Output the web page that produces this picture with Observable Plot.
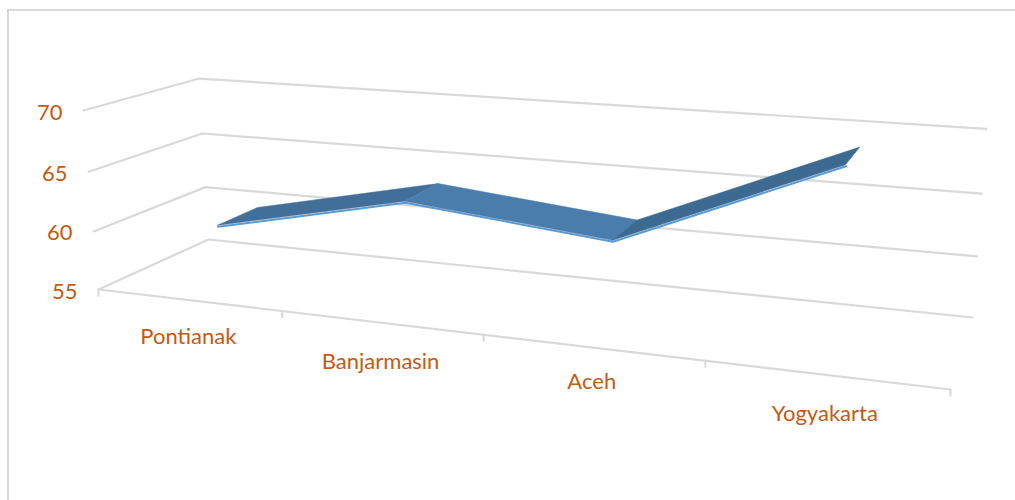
<!DOCTYPE html>
<html>
<head>
<meta charset="utf-8">
<script src="https://cdn.jsdelivr.net/npm/d3@7"></script>
<script src="https://cdn.jsdelivr.net/npm/@observablehq/plot@0.6"></script>
<style>
html,body{margin:0;padding:0;background:#fff;overflow:hidden}
#frame{position:absolute;left:7px;top:9px;width:1008px;height:491px;border-left:2px solid #d9d9d9;border-top:2px solid #d9d9d9;pointer-events:none}
</style>
</head>
<body>
<div id="chart"></div>
<div id="frame"></div>
<script>
const categories = ["Pontianak", "Banjarmasin", "Aceh", "Yogyakarta"];
const values = [60, 63.5, 61.9, 69];
const levels = [55, 60, 65, 70];
const segmentColors = ["#426f99", "#4a7dac", "#3c6a90"];
const gridColor = "#d9d9d9";
const textColor = "#c55a11";
const edgeColor = "#5b9bd5";

// The chart's 3D box: category position u, value v and depth w are each 0 to 1.
const ribbonDepth = [0.30, 0.685];
const vMin = d3.min(levels), vMax = d3.max(levels);
function project(u, value, w) {
  const v = (value - vMin) / (vMax - vMin);
  const den = 1 - 0.175 * u - 0.04 * v + 0.1202 * w;
  return {
    x: (98 + 685.75 * u - 18.32 * v + 135 * w - 8 * u * v) / den,
    y: (289 + 31.9 * u - 183.4 * v - 21.3 * w) / den
  };
}
const n = categories.length;
const center = i => (i + 0.5) / n;

const grid = levels.flatMap(l => [
  {...project(0, l, 0), l}, {...project(0, l, 1), l}, {...project(1, l, 1), l}
]);
const axisLine = [project(0, vMin, 0), project(1, vMin, 0)];
const ticks = d3.range(n + 1).map(i => project(i / n, vMin, 0));
const levelLabels = levels.map(l => ({...project(0, l, 0), l}));
const labelDrop = [37, 39, 35, 39];
const catLabels = categories.map((c, i) => {
  const p = project(center(i), vMin, 0);
  return {x: p.x, y: p.y + labelDrop[i], c};
});

const strips = d3.range(n - 1).flatMap(s => [s, s + 1].map(i => {
  const f = project(center(i), values[i], ribbonDepth[0]);
  const b = project(center(i), values[i], ribbonDepth[1]);
  return {x1: f.x, y1: f.y, x2: b.x, y2: b.y, seg: s, color: segmentColors[s]};
}));
const frontEdge = values.map((val, i) => project(center(i), val, ribbonDepth[0]));

const fontFamily = "Lato, 'Open Sans', sans-serif";
const plot = Plot.plot({
  width: 1015, height: 500,
  margin: 0,
  x: {domain: [0, 1015], range: [0, 1015], axis: null},
  y: {domain: [0, 500], range: [0, 500], axis: null},
  color: {type: "identity"},
  style: {background: "transparent", fontFamily},
  marks: [
    Plot.line(grid, {x: "x", y: "y", z: "l", stroke: gridColor, strokeWidth: 2.2, curve: "linear"}),
    Plot.line(axisLine, {x: "x", y: "y", stroke: gridColor, strokeWidth: 2.2}),
    Plot.link(ticks, {x1: "x", x2: "x", y1: "y", y2: d => d.y + 7, stroke: gridColor, strokeWidth: 2}),
    Plot.line(frontEdge, {x: "x", y: "y", dy: 1, stroke: edgeColor, strokeWidth: 2, curve: "linear"}),
    Plot.area(strips, {x1: "x1", y1: "y1", x2: "x2", y2: "y2", z: "seg", fill: "color", stroke: "color", strokeWidth: 0.5, curve: "linear"}),
    Plot.text(levelLabels, {x: "x", y: "y", text: d => String(d.l), dx: -21, dy: 2, textAnchor: "end", fill: textColor, fontSize: 22, fontFamily}),
    Plot.text(catLabels, {x: "x", y: "y", text: "c", fill: textColor, fontSize: 22, fontFamily})
  ]
});
document.getElementById("chart").appendChild(plot);
</script>
</body>
</html>
